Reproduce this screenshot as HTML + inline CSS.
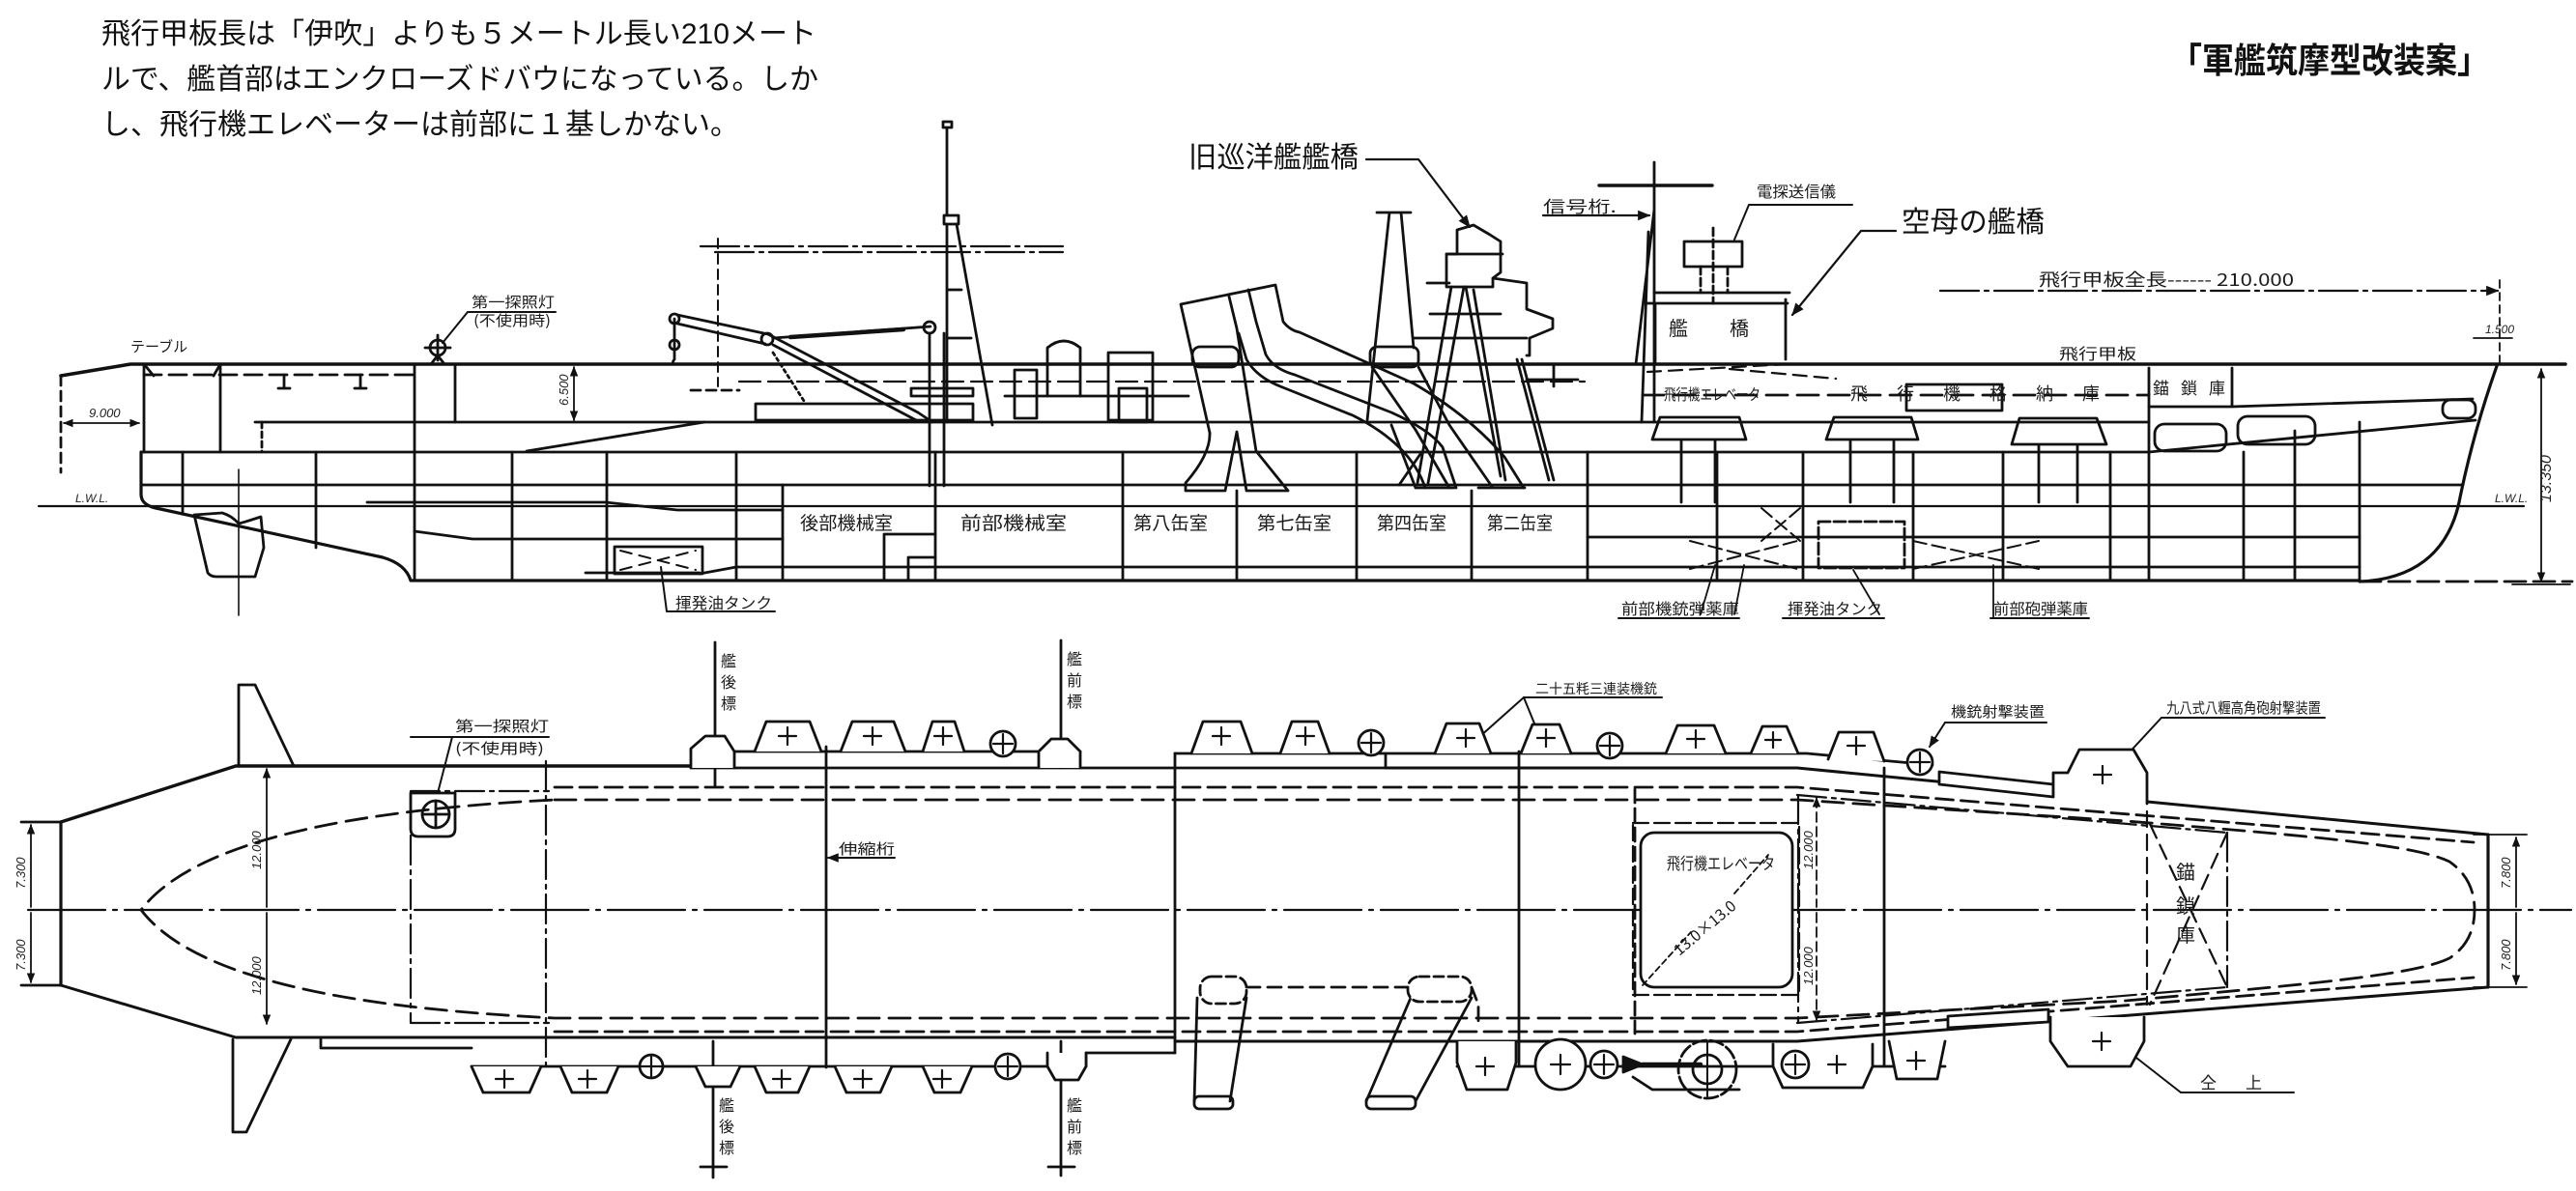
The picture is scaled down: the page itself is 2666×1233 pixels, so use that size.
<!DOCTYPE html>
<html><head><meta charset="utf-8"><title>軍艦筑摩型改装案</title>
<style>html,body{margin:0;padding:0;background:#fff;width:2666px;height:1233px;overflow:hidden}svg{display:block}</style>
</head><body>
<svg xmlns="http://www.w3.org/2000/svg" width="2666" height="1233" viewBox="0 0 2666 1233">
<defs>
<marker id="a" viewBox="0 0 10 10" refX="9" refY="5" markerWidth="6" markerHeight="6" orient="auto-start-reverse"><path d="M0,1 L10,5 L0,9z" fill="#111"/></marker>
</defs>
<rect width="2666" height="1233" fill="#fff"/>

<!-- ===== PROFILE ===== -->
<g fill="none" stroke="#111" stroke-width="2.8" stroke-linecap="round" stroke-linejoin="round">
<path d="M1414,165 H1468 L1521,235" stroke-width="2.2" marker-end="url(#a)"/>
<path d="M1962,239 H1926 L1855,326" stroke-width="2.2" marker-end="url(#a)"/>
<path d="M63,389 L135,377 H2655" stroke-width="3.6"/>
<path d="M63,389 V489" stroke-dasharray="10 6"/>
<path d="M66,438 H144" stroke-width="1.8" marker-start="url(#a)" marker-end="url(#a)"/>
<path d="M149,377 V468 M228,377 V468 M149,377 l10,12 M228,377 l-7,12"/>
<path d="M149,388 H430" stroke-dasharray="18 8"/>
<path d="M294,388 v14 M373,388 v14 M288,402 h12 M367,402 h12"/>
<path d="M271,437 V468" stroke-dasharray="6 4"/>
<path d="M264,437 H2224"/>
<path d="M146,468 H2224 L2562,435"/>
<path d="M146,468 V512 Q146,524 166,527 L396,577 Q420,584 425,601 H2442" stroke-width="3.2"/>
<path d="M146,502 H2548"/>
<path d="M40,524 H2612" stroke-width="2.2"/>
<path d="M380,520 H627 L701,528 H810 M429,550 L489,558 H810 M1643,556 H2442"/>
<path d="M724,594 L762,587 H2442 M606,593 H724"/>
<path d="M2442,602 H2662" stroke-dasharray="22 8"/>
<path d="M2584,379 C2566,430 2553,480 2545,520 C2533,575 2495,600 2442,602" stroke-width="3.2"/>
<path d="M915,601 V553 H968 M940,601 V577 H968"/>
<path d="M429,377 V601 M471,377 V437 M530,468 V601 M628,468 V601 M762,468 V601 M810,502 V601 M189,468 V530 M327,468 V567 M968,468 V601 M1162,468 V601 M1280,508 V601 M1404,468 V601 M1523,508 V601 M1643,468 V601 M1777,468 V601 M1866,468 V601 M1980,468 V601 M2073,468 V601 M2184,468 V601 M2224,381 V601 M2322,468 V601 M2375,446 V601 M2442,437 V601"/>
<path d="M545,467 L729,437"/>
<path d="M594,380 V435" stroke-width="1.8" marker-start="url(#a)" marker-end="url(#a)"/>
<path d="M201,533 L215,593 Q218,597 224,597 H264 L273,567 L270,535 Q255,540 247,542 Q240,534 230,531 Z"/>
<path d="M247,486 V637" stroke-width="1.6"/>
<rect x="636" y="566" width="91" height="28"/>
<path d="M642,570 L720,590 M642,590 L720,570" stroke-dasharray="12 8" stroke-width="2"/>
<path d="M684,587 L690,633 H802" stroke-width="2"/>
<circle cx="453" cy="360" r="8"/>
<path d="M440,360 H466 M453,347 V373 M446,377 L453,368 L460,377"/>
<path d="M458,355 L484,323 H575" stroke-width="2"/>
<path d="M698,330 V372 M698,372 Q694,377 700,377"/>
<circle cx="698" cy="330" r="5"/><circle cx="698" cy="357" r="5"/>
<path d="M701,326 L795,346 M701,335 L792,356"/>
<path d="M795,346 L950,427 L965,437 M800,357 L950,436"/>
<path d="M800,350 L963,338"/>
<path d="M818,349 L935,341" stroke-width="4.5"/>
<circle cx="794" cy="351" r="6"/><circle cx="962" cy="339" r="6"/>
<path d="M962,345 V503 M977,345 V503"/>
<path d="M800,365 L832,415" stroke-dasharray="3 4"/>
<rect x="976" y="126" width="9" height="6"/>
<path d="M980,132 V223 M977,223 H992 V232 H977 Z"/>
<path d="M980,232 V437 M990,232 L1027,440 M980,300 H995 M980,350 H1005"/>
<path d="M725,255 H1100 M740,261 H1100" stroke-dasharray="40 6 4 6" stroke-width="2.2"/>
<path d="M743,247 V400" stroke-dasharray="10 6" stroke-width="2"/>
<path d="M765,395 H1640" stroke-dasharray="22 8" stroke-width="2.2"/>
<path d="M715,404 H765" stroke-dasharray="10 6"/>
<rect x="782" y="418" width="225" height="17"/>
<rect x="943" y="402" width="64" height="8"/>
<rect x="1050" y="383" width="23" height="50"/>
<path d="M1084,410 V360 Q1101,346 1118,360 V410"/>
<rect x="1147" y="365" width="46" height="70"/>
<rect x="1158" y="402" width="29" height="35"/>
<path d="M1040,410 H1230"/>
<path d="M1252,448 L1222,315 L1320,295 L1328,333 Q1335,342 1345,344 L1463,397 Q1520,430 1557,473 L1577,505"/>
<path d="M1272,307 L1280,340 L1300,467 M1292,300 L1300,333 L1310,367 Q1318,382 1340,388 L1440,427 Q1480,445 1493,463 L1507,505"/>
<path d="M1282,345 L1290,372 Q1300,390 1325,400 L1400,430 Q1460,460 1475,505"/>
<path d="M1252,448 Q1253,470 1227,500 V508 H1268 L1280,447 L1290,508 H1333 L1300,467"/>
<rect x="1234" y="359" width="48" height="21" rx="8"/>
<path d="M1425,220 H1460 M1438,220 L1415,435 M1450,220 L1463,360"/>
<rect x="1418" y="359" width="50" height="21" rx="7"/>
<path d="M1420,380 L1465,445 L1500,505 M1468,380 L1500,440 L1545,505 M1440,440 L1465,505 M1465,505 H1505 M1530,505 H1578 M1448,502 L1470,470"/>
<path d="M1497,297 V263 H1508 V238 L1525,233 L1542,243 L1553,250 V282 L1545,288 V297 Z"/>
<path d="M1497,263 H1555 M1545,288 L1580,293 V320 L1607,330 V340 L1583,350 V368 H1580 M1477,293 H1500 M1480,325 H1553 M1463,350 H1580"/>
<path d="M1502,297 L1467,500 M1515,297 L1478,500 M1517,297 L1553,493 M1525,300 L1558,497 M1570,372 L1603,497 M1575,372 L1608,497"/>
<path d="M1580,393 H1633 M1608,378 V400"/>
<path d="M1712,168 V437 M1712,217 L1693,377 M1706,240 L1699,437"/>
<path d="M1655,192 H1772" stroke-width="3.4"/>
<path d="M1597,223 H1707" stroke-width="2.2" marker-end="url(#a)"/>
<path d="M1712,303 H1852 M1703,314 H1850 M1713,314 V377 M1848,310 V372"/>
<rect x="1743" y="250" width="60" height="26"/>
<path d="M1760,276 V303 M1788,276 V303 M1773,236 V314" stroke-dasharray="8 4"/>
<path d="M1810,212 H1917 M1810,212 L1795,248" stroke-width="2"/>
<path d="M1705,385 L1850,377 M1790,382 L1900,392" stroke-dasharray="14 8" stroke-width="2.2"/>
<path d="M1700,409 H2224" stroke-dasharray="22 10"/>
<path d="M1710,455 L1718,432 H1800 L1807,455 Z M1740,455 V520 M1775,455 V520"/>
<path d="M1890,455 L1898,432 H1978 L1985,455 Z M1915,455 V520 M1960,455 V520"/>
<path d="M2082,460 L2090,433 H2170 L2180,460 Z M2110,460 V520 M2150,460 V520"/>
<rect x="1973" y="398" width="99" height="27"/>
<path d="M2224,421 H2310 V381 M2310,421 L2559,413"/>
<rect x="2230" y="439" width="74" height="28" rx="10"/>
<rect x="2316" y="431" width="80" height="29" rx="10"/>
<rect x="2528" y="414" width="34" height="19" rx="8"/>
<path d="M1749,560 L1860,589 M1749,589 L1860,560 M1980,560 L2110,589 M1980,589 L2110,560 M1823,526 L1863,560 M1863,526 L1823,560" stroke-dasharray="14 6" stroke-width="2"/>
<rect x="1882" y="540" width="89" height="48" stroke-dasharray="12 4"/>
<path d="M1775,585 L1760,636 M1805,585 L1795,636 M1918,590 L1945,636 M2063,640 V585" stroke-width="1.8"/>
<path d="M1675,640 H1800 M1845,640 H1950 M2060,640 H2162" stroke-width="2"/>
<path d="M2008,301 H2585" stroke-dasharray="40 6 4 6" stroke-width="2.2" marker-end="url(#a)"/>
<path d="M2587,290 V379" stroke-dasharray="8 5" stroke-width="1.8"/>
<path d="M2630,382 V602" stroke-width="1.8" marker-start="url(#a)" marker-end="url(#a)"/>
<path d="M2600,605 H2660 M2560,350 H2600" stroke-width="1.8"/>
</g>

<!-- ===== PLAN ===== -->
<g fill="none" stroke="#111" stroke-width="2.8" stroke-linecap="round" stroke-linejoin="round">
<path d="M29,942 H2661" stroke-width="2.2" stroke-dasharray="80 8 4 8"/>
<path d="M63,851 V1020" stroke-width="3.2"/>
<path d="M22,851 H63 M22,1020 H63"/>
<path d="M32,854 V939 M32,945 V1017" stroke-width="1.8" marker-start="url(#a)" marker-end="url(#a)"/>
<path d="M63,851 L244,793 H715" stroke-width="3.4"/>
<path d="M63,1020 L244,1074 H1216" stroke-width="3"/>
<path d="M247,793 V709 H264 L304,793"/>
<path d="M241,1076 V1172 H255 L301,1076"/>
<path d="M276,796 V939 M276,945 V1060" stroke-width="1.8" marker-start="url(#a)" marker-end="url(#a)"/>
<path d="M332,1076 V1085 H488"/>
<path d="M715,795 H1434 L1434,780"/>
<path d="M715,778 H1118 M1216,780 H1870 L2000,792"/>
<path d="M1434,795 H1860 L2575,864" stroke-width="3"/>
<path d="M1216,1078 H1860 L2575,1022" stroke-width="3"/>
<path d="M488,1104 H1124 V1090 H1216 M1508,1104 H2013"/>
<path d="M574,815 H1860 L2560,872 M574,1068 H1860 L2560,1012" stroke-dasharray="18 8"/>
<path d="M574,828 H1860 L2200,850 C2400,866 2500,875 2535,892 Q2561,910 2561,942 Q2561,975 2535,992 C2500,1009 2400,1018 2200,1036 L1860,1054 H574 C420,1046 210,1026 146,942 C210,858 420,836 574,828 Z" stroke-dasharray="22 10"/>
<path d="M1860,823 L2305,862 M1860,1059 L2305,1022" stroke-dasharray="30 6 4 6" stroke-width="2.2"/>
<path d="M425,819 V1059 M565,788 V1105 M1861,823 V1059 M2305,862 V1022 M425,819 H568 M425,1059 H568" stroke-dasharray="30 6 4 6" stroke-width="2.2"/>
<path d="M855,773 V1105 M1216,780 V1090 M1572,778 V1104 M1950,795 V1104"/>
<path d="M2575,864 V1022" stroke-width="3.2"/>
<path d="M2560,864 H2615 M2560,1022 H2615" stroke-width="1.8"/>
<path d="M2604,867 V939 M2604,945 V1019" stroke-width="1.8" marker-start="url(#a)" marker-end="url(#a)"/>
<path d="M1880,826 V939 M1880,945 V1056" stroke-width="1.8" marker-start="url(#a)" marker-end="url(#a)" stroke-dasharray="10 5"/>
<path d="M1692,817 V1070" stroke-dasharray="14 6"/>
<path d="M2225,853 L2305,1022 M2305,862 L2225,1040 M2222,840 V1040" stroke-dasharray="16 8" stroke-width="2.2"/>
<path d="M425,821 H471 V858 Q471,866 463,866 H433 Q425,866 425,858 Z"/>
<circle cx="451" cy="843" r="14"/>
<path d="M437,843 H465 M451,829 V857"/>
<path d="M453,821 L468,763 H568 M425,763 H468" stroke-width="2"/>
<path d="M740,665 V814 M1098,663 V795 M738,1078 V1219 M725,1208 H752 M1098,1078 V1217 M1085,1208 H1112"/>
<path d="M868,888 H926" stroke-width="2"/>
<path d="M868,888 H857" stroke-width="2" marker-end="url(#a)"/>
<path d="M1577,722 H1720" stroke-width="2"/>
<path d="M1577,722 L1522,771" stroke-width="2" marker-end="url(#a)"/>
<path d="M1577,722 L1597,771" stroke-width="2" marker-end="url(#a)"/>
<path d="M2013,748 H2118" stroke-width="2"/>
<path d="M2013,748 L1997,773" stroke-width="2" marker-end="url(#a)"/>
<path d="M2237,743 H2406" stroke-width="2"/>
<path d="M2237,743 L2187,797" stroke-width="2" marker-end="url(#a)"/>
<path d="M2257,1131 H2374" stroke-width="2"/>
<path d="M2257,1131 L2193,1081" stroke-width="2" marker-end="url(#a)"/>
<path fill="#fff" d="M715,795 V775 L730,762 H750 L760,778 V795"/>
<path fill="#fff" d="M781,778 L793,747 H838 L850,778 M870,778 L882,747 H925 L937,778 M955,778 L965,747 H988 L998,778 M1075,795 V778 L1088,765 H1105 L1118,778 V795 M1233,780 L1245,747 H1284 L1296,780 M1325,780 L1337,747 H1364 L1376,780 M1485,780 L1497,749 H1531 L1543,780 M1574,780 L1586,750 H1614 L1626,780 M1724,780 L1736,751 H1774 L1786,780 M1812,780 L1824,752 H1849 L1861,780 M1892,786 L1903,758 H1939 L1950,788"/>
<path d="M806,762 h18 M815,753 v18 M894,762 h18 M903,753 v18 M967,762 h18 M976,753 v18 M1255,762 h18 M1264,753 v18 M1342,762 h18 M1351,753 v18 M1508,764 h18 M1517,755 v18 M1591,764 h18 M1600,755 v18 M1746,765 h18 M1755,756 v18 M1827,766 h16 M1835,758 v16 M1912,772 h18 M1921,763 v18" stroke-width="2.2"/>
<g fill="#fff"><circle cx="1038" cy="770" r="13"/><circle cx="1419" cy="769" r="13"/><circle cx="1666" cy="772" r="13"/><circle cx="1987" cy="789" r="13"/></g>
<path d="M1028,770 h20 M1038,760 v20 M1409,769 h20 M1419,759 v20 M1656,772 h20 M1666,762 v20 M1977,789 h20 M1987,779 v20" stroke-width="2.2"/>
<path fill="#fff" d="M2007,799 L2125,812 V825 L2007,812 Z"/>
<path fill="#fff" d="M2125,825 V800 L2140,800 L2152,776 H2208 L2222,800 V832"/>
<path d="M2167,802 h18 M2176,793 v18" stroke-width="2.2"/>
<path fill="#fff" d="M488,1104 L500,1131 H548 L560,1104 M580,1104 L592,1131 H628 L640,1104 M720,1104 L730,1125 H756 L766,1104 M781,1104 L793,1131 H826 L838,1104 M864,1104 L876,1131 H911 L923,1104 M955,1104 L967,1131 H994 L1006,1104 M1084,1090 V1104 L1092,1118 H1116 L1124,1104 V1090"/>
<path d="M513,1117 h18 M522,1108 v18 M599,1117 h18 M608,1108 v18 M800,1117 h18 M809,1108 v18 M884,1117 h18 M893,1108 v18 M966,1117 h18 M975,1108 v18" stroke-width="2.2"/>
<g fill="#fff"><circle cx="674" cy="1104" r="12"/><circle cx="1043" cy="1104" r="13"/></g>
<path d="M664,1104 h20 M674,1094 v20 M1033,1104 h20 M1043,1094 v20" stroke-width="2.2"/>
<path d="M1239,1033 L1236,1140 M1290,1033 L1273,1140 M1460,1033 L1414,1140 M1523,1033 L1465,1140"/>
<rect x="1242" y="1011" width="48" height="28" rx="12" stroke-dasharray="10 5" fill="#fff"/>
<rect x="1236" y="1135" width="40" height="13" rx="5"/>
<rect x="1457" y="1011" width="66" height="26" rx="12" stroke-dasharray="10 5" fill="#fff"/>
<rect x="1414" y="1135" width="51" height="13" rx="5"/>
<path d="M1290,1022 H1457 M1523,1022 L1530,1040 V1060" stroke-dasharray="14 8"/>
<path fill="#fff" d="M1508,1078 V1100 L1518,1128 H1560 L1569,1100 V1078"/>
<path d="M1528,1104 h18 M1537,1095 v18" stroke-width="2.2"/>
<circle cx="1615" cy="1102" r="26" fill="#fff"/>
<path d="M1605,1102 h20 M1615,1092 v20" stroke-width="2.2"/>
<circle cx="1660" cy="1102" r="14" fill="#fff"/>
<path d="M1650,1102 h20 M1660,1092 v20" stroke-width="2.2"/>
<path d="M1680,1094 L1700,1102 L1680,1110 Z" fill="#111"/>
<path d="M1700,1102 H1760" stroke-width="4.5"/>
<path d="M1690,1115 L1710,1128 H1800"/>
<circle cx="1767" cy="1107" r="30" stroke-dasharray="14 4"/>
<circle cx="1767" cy="1107" r="15"/>
<path d="M1767,1080 V1135" stroke-width="2"/>
<path fill="#fff" d="M1835,1081 V1104 L1845,1126 H1928 L1938,1104 V1081"/>
<circle cx="1858" cy="1102" r="14" fill="#fff"/>
<path d="M1848,1102 h20 M1858,1092 v20 M1892,1102 h18 M1901,1093 v18" stroke-width="2.2"/>
<path fill="#fff" d="M1955,1078 L1963,1117 H2005 L2013,1078"/>
<path d="M1974,1098 h18 M1983,1089 v18" stroke-width="2.2"/>
<path fill="#fff" d="M2016,1052 L2120,1045 V1058 L2016,1064 Z"/>
<path fill="#fff" d="M2122,1053 V1078 L2140,1104 H2205 L2219,1078 V1053"/>
<path d="M2166,1078 h18 M2175,1069 v18" stroke-width="2.2"/>
<rect x="1690" y="852" width="172" height="178" stroke-dasharray="16 6" stroke-width="2.2"/>
<rect x="1698" y="862" width="157" height="160" rx="14" fill="#fff"/>
<path d="M1700,1020 L1750,965 M1795,925 L1830,885" stroke-dasharray="6 4" stroke-width="1.8"/>
</g>

<!-- ===== Printed text ===== -->
<g font-family="'Liberation Sans','Noto Sans CJK JP',sans-serif" fill="#111" font-size="30">
<text x="105" y="45" textLength="740" lengthAdjust="spacingAndGlyphs">飛行甲板長は「伊吹」よりも５メートル長い210メート</text>
<text x="105" y="92" textLength="742" lengthAdjust="spacingAndGlyphs">ルで、艦首部はエンクローズドバウになっている。しか</text>
<text x="105" y="139" textLength="660" lengthAdjust="spacingAndGlyphs">し、飛行機エレベーターは前部に１基しかない。</text>
<text x="2246" y="75" font-size="36" font-weight="bold" textLength="330" lengthAdjust="spacingAndGlyphs">「軍艦筑摩型改装案」</text>
<text x="1230" y="173" textLength="176" lengthAdjust="spacingAndGlyphs">旧巡洋艦艦橋</text>
<text x="1968" y="240" textLength="148" lengthAdjust="spacingAndGlyphs">空母の艦橋</text>
</g>

<!-- ===== Handwritten labels ===== -->
<g font-family="'Noto Sans CJK JP','Noto Sans CJK SC',sans-serif" fill="#1a1a1a" font-size="17">
<text x="135" y="364" font-size="15">テーブル</text>
<text x="488" y="318" font-size="15" textLength="86" lengthAdjust="spacingAndGlyphs">第一探照灯</text>
<text x="490" y="337" font-size="15" textLength="80" lengthAdjust="spacingAndGlyphs">(不使用時)</text>
<text x="828" y="548" font-size="19" textLength="96" lengthAdjust="spacingAndGlyphs">後部機械室</text>
<text x="994" y="548" font-size="19" textLength="110" lengthAdjust="spacingAndGlyphs">前部機械室</text>
<text x="1173" y="548" font-size="19" textLength="77" lengthAdjust="spacingAndGlyphs">第八缶室</text>
<text x="1301" y="548" font-size="19" textLength="77" lengthAdjust="spacingAndGlyphs">第七缶室</text>
<text x="1425" y="548" font-size="19" textLength="72" lengthAdjust="spacingAndGlyphs">第四缶室</text>
<text x="1539" y="548" font-size="19" textLength="68" lengthAdjust="spacingAndGlyphs">第二缶室</text>
<text x="699" y="630" font-size="16" textLength="100" lengthAdjust="spacingAndGlyphs">揮発油タンク</text>
<text x="1678" y="636" font-size="16" textLength="122" lengthAdjust="spacingAndGlyphs">前部機銃弾薬庫</text>
<text x="1850" y="636" font-size="16" textLength="98" lengthAdjust="spacingAndGlyphs">揮発油タンク</text>
<text x="2063" y="636" font-size="16" textLength="98" lengthAdjust="spacingAndGlyphs">前部砲弾薬庫</text>
<text x="1597" y="220" font-size="17" textLength="76" lengthAdjust="spacingAndGlyphs">信号桁.</text>
<text x="1818" y="204" font-size="16" textLength="82" lengthAdjust="spacingAndGlyphs">電探送信儀</text>
<text x="1727" y="347" font-size="20">艦</text>
<text x="1790" y="347" font-size="20">橋</text>
<text x="1722" y="414" font-size="16" textLength="100" lengthAdjust="spacingAndGlyphs">飛行機エレベータ</text>
<text x="1915" y="414" font-size="18" letter-spacing="30">飛行機格納庫</text>
<text x="2131" y="372" font-size="16" textLength="80" lengthAdjust="spacingAndGlyphs">飛行甲板</text>
<text x="2228" y="408" font-size="17" letter-spacing="12">錨鎖庫</text>
<text x="2110" y="296" font-size="18" textLength="264" lengthAdjust="spacingAndGlyphs">飛行甲板全長------ 210.000</text>
<text x="471" y="757" font-size="15" textLength="97" lengthAdjust="spacingAndGlyphs">第一探照灯</text>
<text x="471" y="780" font-size="15" textLength="92" lengthAdjust="spacingAndGlyphs">(不使用時)</text>
<g font-size="16">
<text x="746" y="690">艦</text><text x="746" y="712">後</text><text x="746" y="734">標</text>
<text x="1104" y="688">艦</text><text x="1104" y="710">前</text><text x="1104" y="732">標</text>
<text x="744" y="1150">艦</text><text x="744" y="1172">後</text><text x="744" y="1194">標</text>
<text x="1104" y="1150">艦</text><text x="1104" y="1172">前</text><text x="1104" y="1194">標</text>
</g>
<text x="868" y="884" font-size="15" textLength="58" lengthAdjust="spacingAndGlyphs">伸縮桁</text>
<text x="1589" y="718" font-size="14" textLength="126" lengthAdjust="spacingAndGlyphs">二十五粍三連装機銃</text>
<text x="2019" y="742" font-size="15" textLength="97" lengthAdjust="spacingAndGlyphs">機銃射撃装置</text>
<text x="2242" y="738" font-size="15" textLength="160" lengthAdjust="spacingAndGlyphs">九八式八糎高角砲射撃装置</text>
<text x="2277" y="1127" font-size="17" letter-spacing="30">仝上</text>
<text x="1725" y="900" font-size="17" textLength="112" lengthAdjust="spacingAndGlyphs">飛行機エレベータ</text>
<text x="0" y="0" font-size="16" transform="translate(1738,990) rotate(-40)">13.0×13.0</text>
<text x="2252" y="910" font-size="20">錨</text>
<text x="2252" y="945" font-size="20">鎖</text>
<text x="2252" y="975" font-size="20">庫</text>
</g>
<g font-family="'Liberation Sans',sans-serif" font-style="italic" fill="#222" font-size="13">
<text x="92" y="432">9.000</text>
<text x="78" y="520" font-size="12">L.W.L.</text>
<text x="2582" y="520" font-size="12">L.W.L.</text>
<text transform="translate(588,420) rotate(-90)">6.500</text>
<text transform="translate(2640,520) rotate(-90)" font-size="16">13.350</text>
<text x="2572" y="345" font-size="12">1.500</text>
<text transform="translate(26,920) rotate(-90)">7.300</text>
<text transform="translate(26,1005) rotate(-90)">7.300</text>
<text transform="translate(270,900) rotate(-90)">12.000</text>
<text transform="translate(270,1030) rotate(-90)">12.000</text>
<text transform="translate(1876,900) rotate(-90)">12.000</text>
<text transform="translate(1876,1020) rotate(-90)">12.000</text>
<text transform="translate(2598,920) rotate(-90)">7.800</text>
<text transform="translate(2598,1005) rotate(-90)">7.800</text>
</g>
</svg>
</body></html>
